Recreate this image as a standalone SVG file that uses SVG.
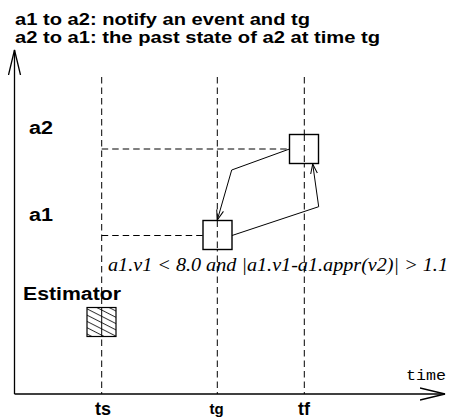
<svg xmlns="http://www.w3.org/2000/svg" width="450" height="420" viewBox="0 0 450 420">
  <style>
    .bold { font-family: "Liberation Sans", Arial, sans-serif; font-weight: bold; fill: #000; }
    .ital { font-family: "Liberation Serif", "Times New Roman", serif; font-style: italic; fill: #000; }
    .mono { font-family: "Liberation Mono", "Courier New", monospace; fill: #000; }
    .axis { stroke: #000; stroke-width: 1.3; fill: none; }
    .dash { stroke: #000; stroke-width: 1; stroke-dasharray: 6.5 4; fill: none; }
    .box { stroke: #000; stroke-width: 1.4; fill: #fff; }
    .conn { stroke: #000; stroke-width: 1; fill: none; marker-end: url(#arr); }
  </style>
  <defs>
    <marker id="arr" viewBox="0 0 10 8" refX="10" refY="4" markerWidth="10" markerHeight="8" orient="auto" markerUnits="userSpaceOnUse">
      <path d="M0,0.5 L10,4 L0,7.5" fill="none" stroke="#000" stroke-width="1"/>
    </marker>
    <marker id="axarr" viewBox="0 0 26 14" refX="25" refY="7" markerWidth="26" markerHeight="14" orient="auto" markerUnits="userSpaceOnUse">
      <path d="M0,1 L25,7 L0,13" fill="none" stroke="#000" stroke-width="1.3"/>
    </marker>
    <pattern id="hatch" patternUnits="userSpaceOnUse" width="10" height="5.6" patternTransform="rotate(27)">
      <line x1="0" y1="0.5" x2="10" y2="0.5" stroke="#000" stroke-width="0.8"/>
    </pattern>
  </defs>

  <g id="title">
    <text class="bold" x="15" y="25" font-size="17" textLength="295" lengthAdjust="spacingAndGlyphs">a1 to a2: notify an event and tg</text>
    <text class="bold" x="15" y="43" font-size="17" textLength="365" lengthAdjust="spacingAndGlyphs">a2 to a1: the past state of a2 at time tg</text>
  </g>

  <g id="axes">
    <line class="axis" x1="14.5" y1="394" x2="14.5" y2="50" marker-end="url(#axarr)"/>
    <line class="axis" x1="14.5" y1="394" x2="445" y2="394" marker-end="url(#axarr)"/>
    <text class="mono" x="406" y="380" font-size="15" textLength="40" lengthAdjust="spacingAndGlyphs">time</text>
  </g>

  <g id="guides">
    <line class="dash" x1="101.7" y1="77" x2="101.7" y2="394"/>
    <line class="dash" x1="217.3" y1="77" x2="217.3" y2="394"/>
    <line class="dash" x1="304.3" y1="77" x2="304.3" y2="394"/>
    <line class="dash" x1="101.7" y1="149" x2="289.5" y2="149"/>
    <line class="dash" x1="101.7" y1="235.5" x2="203" y2="235.5"/>
  </g>

  <g id="labels">
    <text class="bold" x="29" y="134" font-size="18" textLength="24" lengthAdjust="spacingAndGlyphs">a2</text>
    <text class="bold" x="29" y="221" font-size="18" textLength="24" lengthAdjust="spacingAndGlyphs">a1</text>
    <text class="bold" x="23" y="300" font-size="18" textLength="98" lengthAdjust="spacingAndGlyphs">Estimator</text>
    <text class="ital" x="108" y="271" font-size="18" textLength="340" lengthAdjust="spacingAndGlyphs">a1.v1 &lt; 8.0 and |a1.v1-a1.appr(v2)| &gt; 1.1</text>
    <text class="bold" x="103" y="415" font-size="18" text-anchor="middle">ts</text>
    <text class="bold" x="216.5" y="414" font-size="15" text-anchor="middle">tg</text>
    <text class="bold" x="304" y="415" font-size="18" text-anchor="middle">tf</text>
  </g>

  <g id="estimator">
    <rect x="87" y="307.5" width="29" height="29" fill="#fff" stroke="none"/>
    <rect x="87" y="307.5" width="29" height="29" fill="url(#hatch)" stroke="#000" stroke-width="1.2"/>
    <line x1="101.7" y1="307.5" x2="101.7" y2="336.5" stroke="#000" stroke-width="1"/>
  </g>

  <g id="a2-node">
    <rect class="box" x="289.5" y="134.5" width="29" height="29"/>
    <line x1="304.3" y1="134.5" x2="304.3" y2="163.5" stroke="#000" stroke-width="1" stroke-dasharray="6.5 4"/>
  </g>

  <g id="a1-node">
    <rect class="box" x="203" y="220.5" width="29" height="29"/>
    <line x1="217.3" y1="220.5" x2="217.3" y2="249.5" stroke="#000" stroke-width="1" stroke-dasharray="6.5 4"/>
  </g>

  <g id="connectors">
    <polyline class="conn" points="289.5,149 231.7,170 217.3,220"/>
    <polyline class="conn" points="232,235.5 318.7,206.7 312.7,164"/>
  </g>
</svg>
